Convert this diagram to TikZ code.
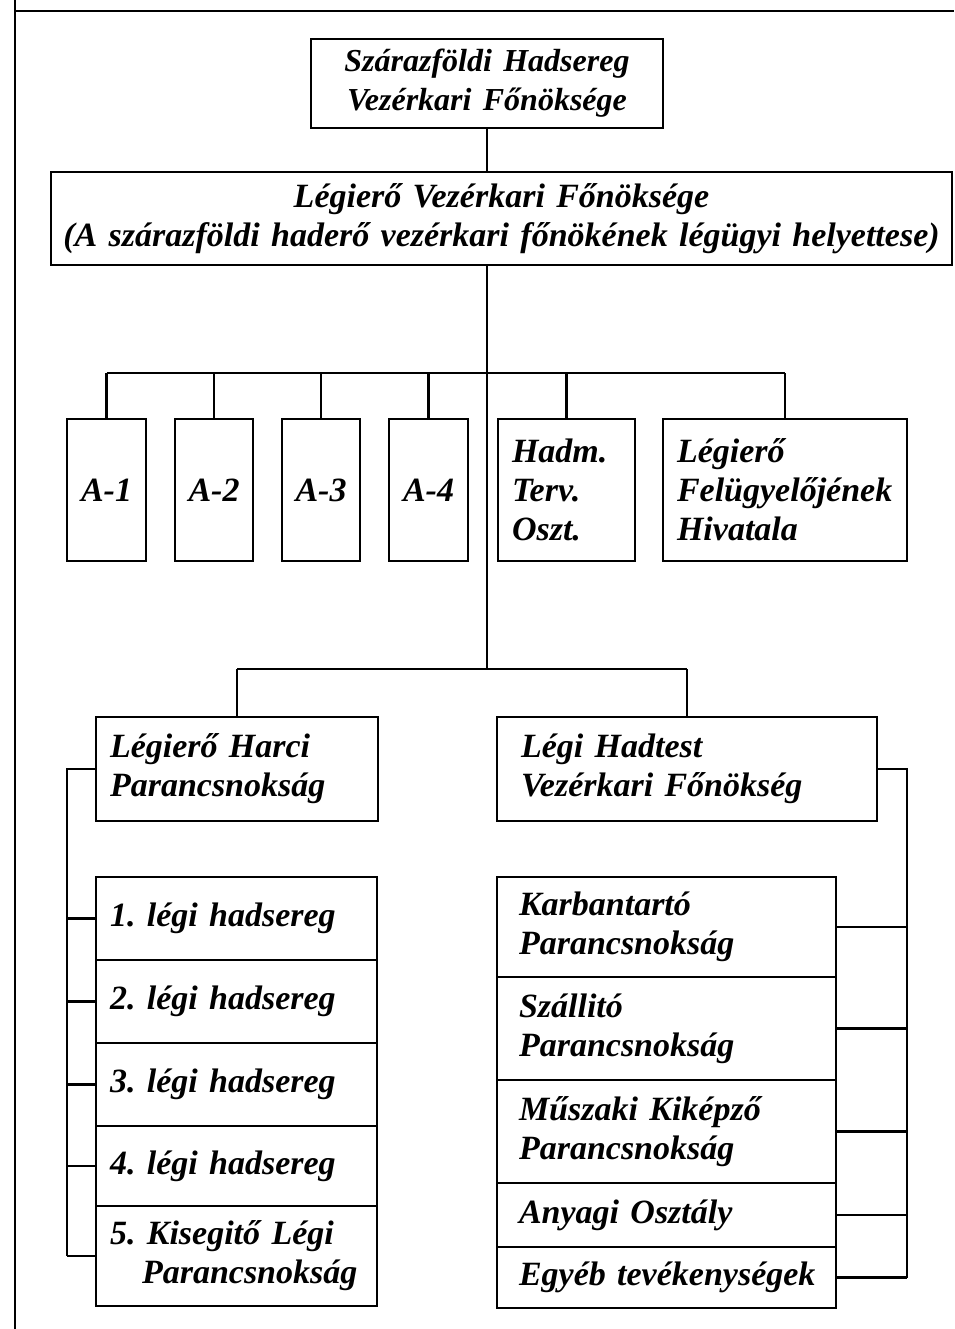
\documentclass[tikz,border=0pt]{standalone}
\usepackage{fontspec}
\setmainfont{Liberation Serif}
\frenchspacing
\newcommand\lbl{\fontsize{34}{39}\selectfont\bfseries\itshape}
\newcommand\smlbl{\fontsize{32}{36}\selectfont}
\tikzset{
  box/.style={draw, line width=2.2pt, anchor=north west, outer sep=0pt,
    inner ysep=0pt, font=\lbl},
  wire/.style={line width=2.2pt},
}
% \bx{name}{x1}{y1}{x2}{y2}{xpad}{align}{text}
\newcommand\bx[8]{%
  \pgfmathsetmacro\bxtw{#4-#2-2*#6}%
  \node[box, minimum width={#4-#2}, minimum height={#5-#3}, inner xsep=#6,
    text width=\bxtw pt, align=#7] (#1) at (#2,#3) {#8};}
\begin{document}
\begin{tikzpicture}[x=1pt,y=-1pt]
\useasboundingbox (0,0) rectangle (954,1329);
% frame
\draw[wire] (15,0) -- (15,1329);
\draw[wire] (15,11) -- (954,11);
% boxes
\bx{tb}{311}{39}{663}{128}{4}{center}{\smlbl Szárazföldi Hadsereg\\Vezérkari Főnöksége}
\bx{sb}{51}{172}{952}{265}{4}{center}{Légierő Vezérkari Főnöksége\\(A szárazföldi haderő vezérkari főnökének légügyi helyettese)}
\bx{a1}{67}{419}{146}{561}{2}{center}{A-1}
\bx{a2}{175}{419}{253}{561}{2}{center}{A-2}
\bx{a3}{282}{419}{360}{561}{2}{center}{A-3}
\bx{a4}{389}{419}{468}{561}{2}{center}{A-4}
\bx{hadm}{498}{419}{635}{561}{14}{left}{Hadm.\\Terv.\\Oszt.}
\bx{felu}{663}{419}{907}{561}{14}{left}{Légierő\\Felügyelőjének\\Hivatala}
\bx{harci}{96}{717}{378}{821}{14}{left}{Légierő Harci\\Parancsnokság}
\bx{hadtest}{497}{717}{877}{821}{24}{left}{Légi Hadtest\\Vezérkari Főnökség}
\bx{l1}{96}{877}{377}{960}{14}{left}{1. légi hadsereg}
\bx{l2}{96}{960}{377}{1043}{14}{left}{2. légi hadsereg}
\bx{l3}{96}{1043}{377}{1126}{14}{left}{3. légi hadsereg}
\bx{l4}{96}{1126}{377}{1206}{14}{left}{4. légi hadsereg}
\bx{l5}{96}{1206}{377}{1306}{14}{left}{5. Kisegitő Légi\\\hspace*{32pt}Parancsnokság}
\bx{r1}{497}{877}{836}{977}{22}{left}{Karbantartó\\Parancsnokság}
\bx{r2}{497}{977}{836}{1080}{22}{left}{Szállitó\\Parancsnokság}
\bx{r3}{497}{1080}{836}{1183}{22}{left}{Műszaki Kiképző\\Parancsnokság}
\bx{r4}{497}{1183}{836}{1247}{22}{left}{Anyagi Osztály}
\bx{r5}{497}{1247}{836}{1308}{22}{left}{\mbox{Egyéb tevékenységek}}
% helper coordinates
\coordinate (bus1) at (487,373);
\coordinate (bus2) at (487,669);
\coordinate (lb) at (67,0);
\coordinate (rb) at (907,0);
% connectors
\draw[wire] (tb.south) -- (tb.south |- sb.north);
\draw[wire] (tb.south |- sb.south) -- (bus2);
\draw[wire] (a1.north |- bus1) -- (felu.north |- bus1);
\foreach \n in {a1,a2,a3,a4,hadm,felu}
  \draw[wire] (\n.north |- bus1) -- (\n.north);
\draw[wire] (harci.north |- bus2) -- (hadtest.north |- bus2);
\draw[wire] (harci.north |- bus2) -- (harci.north);
\draw[wire] (hadtest.north |- bus2) -- (hadtest.north);
\draw[wire] (harci.west) -- (harci.west -| lb) -- (l5.west -| lb);
\foreach \n in {l1,l2,l3,l4,l5}
  \draw[wire] (\n.west) -- (\n.west -| lb);
\draw[wire] (hadtest.east) -- (hadtest.east -| rb) -- (r5.east -| rb);
\foreach \n in {r1,r2,r3,r4,r5}
  \draw[wire] (\n.east) -- (\n.east -| rb);
\end{tikzpicture}
\end{document}
